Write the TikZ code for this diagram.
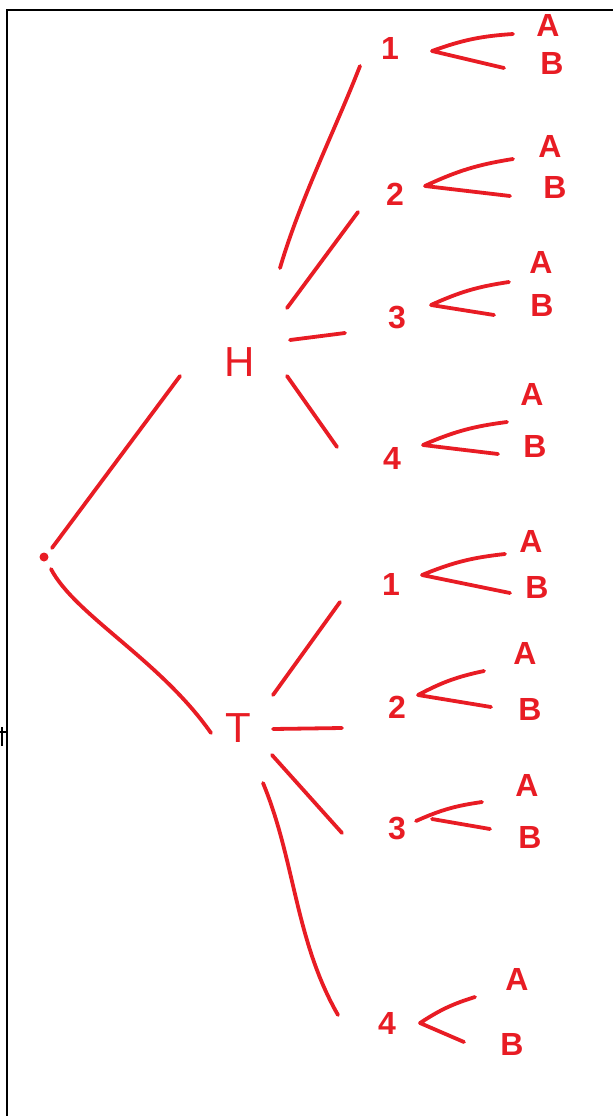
\documentclass[tikz,border=0pt]{standalone}
\usepackage{fontspec}
\setmainfont{Liberation Sans}
\usetikzlibrary{calc}
\definecolor{figred}{RGB}{232,28,36}
\tikzset{
  fig/.style={x=1pt,y=-1pt},
  coin/.style={text=figred,inner sep=0pt,font=\fontsize{42}{42}\selectfont},
  num/.style={text=figred,inner sep=0pt,font=\bfseries\fontsize{32}{32}\selectfont},
  leaf/.style={text=figred,inner sep=0pt,font=\bfseries\fontsize{32}{32}\selectfont},
  br/.style={draw=figred,line width=3.8pt,line cap=round,line join=round},
  frm/.style={draw=black,line width=2.2pt},
}

\begin{document}
\begin{tikzpicture}[fig]
\useasboundingbox (0,0) rectangle (613,1116);

% page edge
\draw[frm] (7,1116) -- (7,10) -- (613,10);
\draw[frm] (0,732) -- (7,732);
\draw[frm] (2,727) -- (2,746);

\node[circle,fill=figred,inner sep=0pt,minimum size=9pt] (root) at (44,557) {};

\node[coin] (H) at (240,362) {H};
\node[coin] (T) at (238,728) {T};

\node[num] (h1) at (390,48) {1};
\node[num] (h2) at (395,194) {2};
\node[num] (h3) at (397,318) {3};
\node[num] (h4) at (392,458) {4};
\node[num] (t1) at (391,584) {1};
\node[num] (t2) at (397,707) {2};
\node[num] (t3) at (397,828) {3};
\node[num] (t4) at (387,1023) {4};

\node[leaf] (h1A) at (548,25) {A};   \node[leaf] (h1B) at (552,63) {B};
\node[leaf] (h2A) at (550,146) {A};  \node[leaf] (h2B) at (555,187) {B};
\node[leaf] (h3A) at (541,262) {A};  \node[leaf] (h3B) at (542,305) {B};
\node[leaf] (h4A) at (532,394) {A};  \node[leaf] (h4B) at (535,446) {B};
\node[leaf] (t1A) at (531,541) {A};  \node[leaf] (t1B) at (537,587) {B};
\node[leaf] (t2A) at (525,653) {A};  \node[leaf] (t2B) at (530,709) {B};
\node[leaf] (t3A) at (527,785) {A};  \node[leaf] (t3B) at (530,837) {B};
\node[leaf] (t4A) at (517,979) {A};  \node[leaf] (t4B) at (512,1044) {B};

% first toss
\draw[br] ($(root)+(8,-9)$) -- ($(H)+(-60,14)$);
\draw[br] ($(root)+(7,12)$) .. controls (75,615) and (160,660) .. ($(T)+(-27,5)$);

% spinner after H
\draw[br] ($(H)+(40,-94)$) .. controls (300,200) and (335,130) .. ($(h1)+(-30,18)$);
\draw[br] ($(H)+(47,-54)$) -- ($(h2)+(-37,18)$);
\draw[br] ($(H)+(50,-22)$) -- ($(h3)+(-52,15)$);
\draw[br] ($(H)+(47,14)$) -- ($(h4)+(-55,-11)$);

% spinner after T
\draw[br] ($(T)+(35,-33)$) -- ($(t1)+(-51,18)$);
\draw[br] ($(T)+(35,1)$) -- ($(t2)+(-55,21)$);
\draw[br] ($(T)+(34,27)$) -- ($(t3)+(-55,5)$);
\draw[br] ($(T)+(25,55)$) .. controls (295,860) and (295,940) .. ($(t4)+(-49,-8)$);

% A or B
\draw[br] ($(h1A)+(-35,9)$) to[bend right=8] ($(h1)+(42,3)$) -- ($(h1B)+(-48,5)$);
\draw[br] ($(h2A)+(-37,13)$) to[bend right=8] ($(h2)+(30,-8)$) -- ($(h2B)+(-45,9)$);
\draw[br] ($(h3A)+(-32,20)$) to[bend right=8] ($(h3)+(34,-13)$) -- ($(h3B)+(-48,10)$);
\draw[br] ($(h4A)+(-25,28)$) to[bend right=8] ($(h4)+(31,-13)$) -- ($(h4B)+(-37,8)$);
\draw[br] ($(t1A)+(-26,13)$) to[bend right=8] ($(t1)+(31,-9)$) -- ($(t1B)+(-27,6)$);
\draw[br] ($(t2A)+(-41,18)$) to[bend right=8] ($(t2)+(21,-12)$) -- ($(t2B)+(-39,-2)$);
\draw[br] ($(t3A)+(-45,17)$) to[bend right=8] ($(t3)+(19,-7)$);
\draw[br] ($(t3)+(35,-9)$) -- ($(t3B)+(-40,-8)$);
\draw[br] ($(t4A)+(-42,18)$) to[bend right=8] ($(t4)+(33,0)$) -- ($(t4B)+(-48,-2)$);

\end{tikzpicture}
\end{document}
